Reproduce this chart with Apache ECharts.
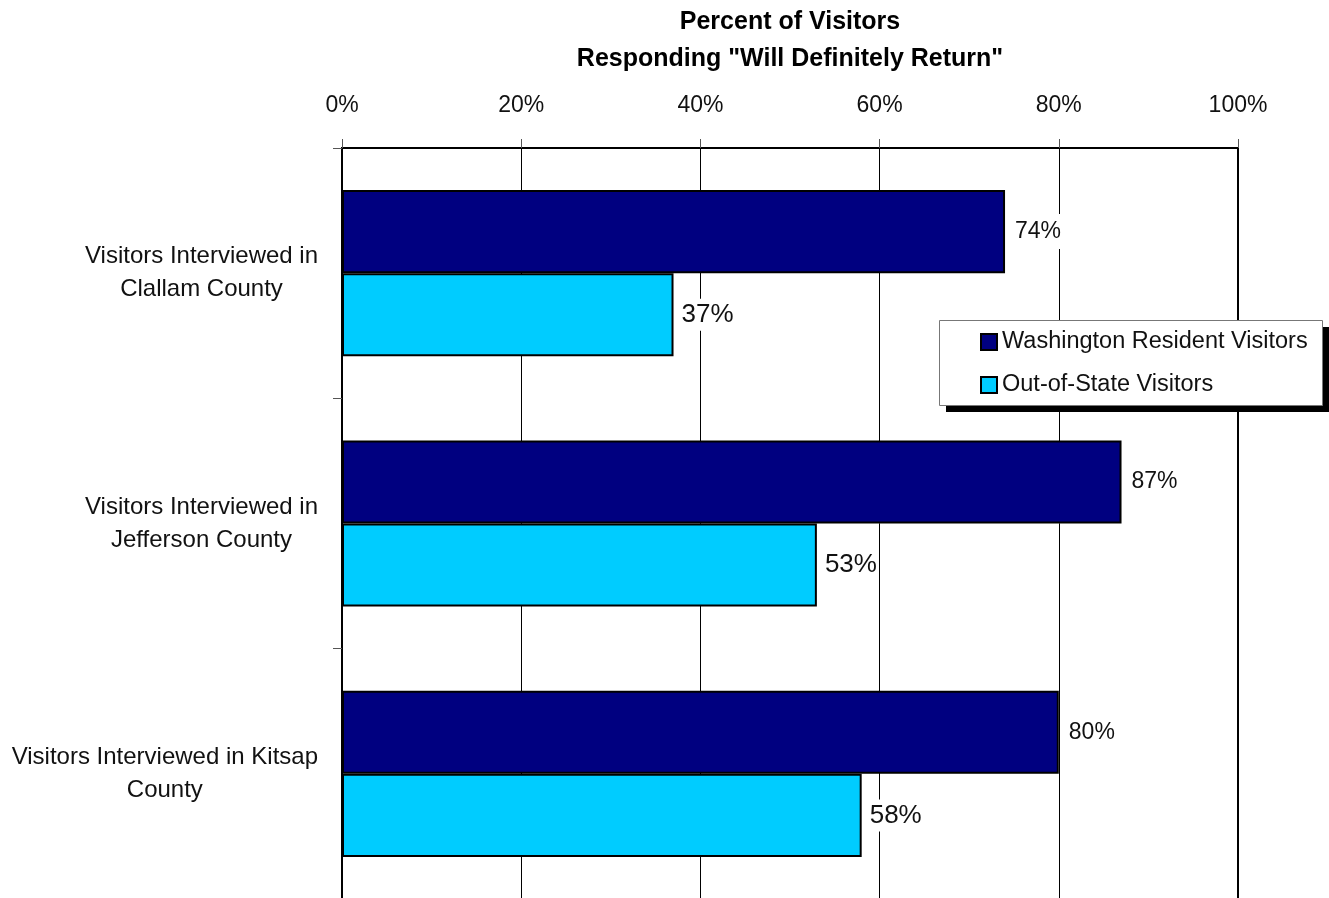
<!DOCTYPE html>
<html>
<head>
<meta charset="utf-8">
<script src="https://cdn.jsdelivr.net/npm/echarts@6/dist/echarts.min.js"></script>
<style>
  html, body { margin: 0; padding: 0; background: #fff; }
  #chart { width: 1329px; height: 898px; }
</style>
</head>
<body>
<div id="chart"></div>
<script>
// Survey regions (top to bottom)
const categories = [
  'Visitors Interviewed in\nClallam County',
  'Visitors Interviewed in\nJefferson County',
  'Visitors Interviewed in Kitsap\nCounty'
];
// Share answering "Will Definitely Return", in percent
const residentShare = [74, 87, 80];
const outOfStateShare = [37, 53, 58];
const seriesNames = ['Washington Resident Visitors', 'Out-of-State Visitors'];
const titleLines = ['Percent of Visitors', 'Responding "Will Definitely Return"'];
const axisMin = 0, axisMax = 100, axisStep = 20;

const SANS = "'Liberation Sans', Arial, sans-serif";

const chart = echarts.init(document.getElementById('chart'), null, { renderer: 'canvas' });

chart.setOption({
  backgroundColor: '#ffffff',
  animation: false,
  title: {
    text: titleLines.join('\n'),
    left: 790,
    textAlign: 'center',
    top: 4,
    padding: 0,
    textStyle: {
      fontFamily: SANS, fontWeight: 'bold', fontSize: 25,
      lineHeight: 37, color: '#000'
    }
  },
  grid: {
    left: 342, right: 91, top: 148, bottom: -1,
    outerBoundsMode: 'none',
    containLabel: false,
    show: true, borderColor: '#000', borderWidth: 2,
    backgroundColor: 'transparent'
  },
  // legend frame with its drop shadow
  graphic: [
    {
      type: 'rect', z: 30, silent: true,
      shape: { x: 946, y: 327, width: 383, height: 85 },
      style: { fill: '#000' }
    },
    {
      type: 'rect', z: 31, silent: true,
      shape: { x: 939.5, y: 320.5, width: 383, height: 85 },
      style: { fill: '#fff', stroke: '#777', lineWidth: 1 }
    }
  ],
  legend: {
    orient: 'vertical',
    left: 980, top: 330,
    z: 40,
    padding: 0,
    itemGap: 19,
    itemWidth: 16, itemHeight: 16,
    icon: 'rect',
    textStyle: { fontFamily: SANS, fontSize: 23.5, color: '#111', lineHeight: 24 },
    data: seriesNames
  },
  xAxis: {
    type: 'value',
    position: 'top',
    min: axisMin, max: axisMax, interval: axisStep,
    axisLine: { show: true, lineStyle: { color: '#000', width: 2 } },
    axisTick: { show: true, length: 9, lineStyle: { color: '#555', width: 1 } },
    axisLabel: {
      formatter: '{value}%', margin: 31,
      fontFamily: SANS, fontSize: 23, color: '#111'
    },
    splitLine: { show: true, lineStyle: { color: '#000', width: 1 } }
  },
  yAxis: {
    type: 'category',
    inverse: true,
    data: categories,
    axisLine: { show: true, lineStyle: { color: '#000', width: 2 } },
    axisTick: { show: true, length: 9, lineStyle: { color: '#555', width: 1 } },
    axisLabel: {
      margin: 24,
      formatter: function (v) {
        return v.split('\n').map(function (s) { return '{c|' + s + '}'; }).join('\n');
      },
      rich: {
        c: { fontFamily: SANS, fontSize: 24, lineHeight: 33, color: '#111', align: 'center' }
      }
    }
  },
  series: [
    {
      name: seriesNames[0],
      type: 'bar',
      data: residentShare,
      barGap: '0%',
      barCategoryGap: '33.6%',
      itemStyle: { color: '#000080', borderColor: '#000', borderWidth: 2 },
      label: {
        show: true, position: 'right', distance: 7,
        formatter: '{c}%',
        fontFamily: SANS, fontSize: 23, color: '#111',
        backgroundColor: '#fff', padding: [6, 3]
      }
    },
    {
      name: seriesNames[1],
      type: 'bar',
      data: outOfStateShare,
      barGap: '0%',
      barCategoryGap: '33.6%',
      itemStyle: { color: '#00ccff', borderColor: '#000', borderWidth: 2 },
      label: {
        show: true, position: 'right', distance: 6,
        formatter: '{c}%',
        fontFamily: SANS, fontSize: 26, color: '#111',
        backgroundColor: '#fff', padding: [3, 2]
      }
    }
  ]
});
</script>
</body>
</html>
